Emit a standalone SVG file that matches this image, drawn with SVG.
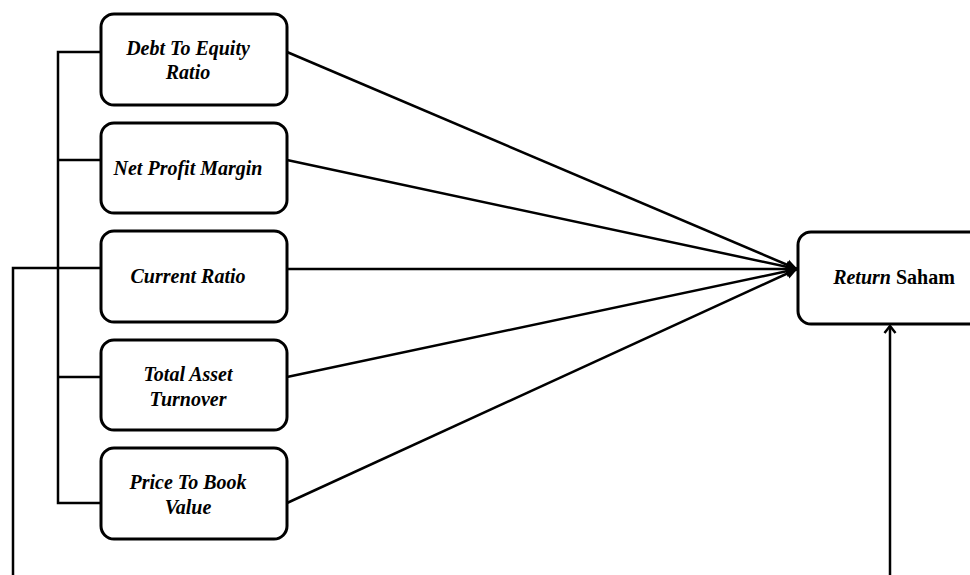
<svg xmlns="http://www.w3.org/2000/svg" width="970" height="575" viewBox="0 0 970 575">
<defs>
<style>
.box{fill:#fff;stroke:#000;stroke-width:3}
.t{font-family:"Liberation Serif","Times New Roman",serif;font-size:20px;font-weight:bold;font-style:italic;fill:#000;text-anchor:middle}
.ln{fill:none;stroke:#000;stroke-width:2.5}
</style>
<marker id="ah" markerWidth="12" markerHeight="12" refX="11" refY="6" orient="auto" markerUnits="userSpaceOnUse"><path d="M0,0.5 L12,6 L0,11.5 Z" fill="#000"/></marker>
<marker id="oa" markerWidth="12" markerHeight="14" refX="8" refY="7" orient="auto" markerUnits="userSpaceOnUse"><path d="M1,1.5 L8,7 L1,12.5" fill="none" stroke="#000" stroke-width="2.5"/></marker>
</defs>
<rect width="970" height="575" fill="#fff"/>
<g id="connectors">
<polyline class="ln" points="101,52 58,52 58,503 101,503"/>
<line class="ln" x1="58" y1="160" x2="101" y2="160"/>
<line class="ln" x1="58" y1="377" x2="101" y2="377"/>
<polyline class="ln" points="101,268 13,268 13,575"/>
<line class="ln" x1="287" y1="52" x2="797" y2="269" marker-end="url(#ah)"/>
<line class="ln" x1="287" y1="160" x2="797" y2="269" marker-end="url(#ah)"/>
<line class="ln" x1="287" y1="269" x2="797" y2="269" marker-end="url(#ah)"/>
<line class="ln" x1="287" y1="377" x2="797" y2="269" marker-end="url(#ah)"/>
<line class="ln" x1="287" y1="503" x2="797" y2="269" marker-end="url(#ah)"/>
<line class="ln" x1="890" y1="575" x2="890" y2="326" marker-end="url(#oa)"/>
</g>
<g id="n1"><rect class="box" x="101" y="14" width="186" height="91" rx="13"/><text class="t" x="188" y="55">Debt To Equity</text><text class="t" x="188" y="79">Ratio</text></g>
<g id="n2"><rect class="box" x="101" y="123" width="186" height="90" rx="13"/><text class="t" x="188" y="175">Net Profit Margin</text></g>
<g id="n3"><rect class="box" x="101" y="231" width="186" height="91" rx="13"/><text class="t" x="188" y="283">Current Ratio</text></g>
<g id="n4"><rect class="box" x="101" y="340" width="186" height="90" rx="13"/><text class="t" x="188" y="381">Total Asset</text><text class="t" x="188" y="406">Turnover</text></g>
<g id="n5"><rect class="box" x="101" y="448" width="186" height="91" rx="13"/><text class="t" x="188" y="489">Price To Book</text><text class="t" x="188" y="514">Value</text></g>
<g id="n6"><rect class="box" x="798" y="232" width="186" height="92" rx="13"/><text class="t" x="894" y="284">Return <tspan style="font-style:normal">Saham</tspan></text></g>
</svg>
